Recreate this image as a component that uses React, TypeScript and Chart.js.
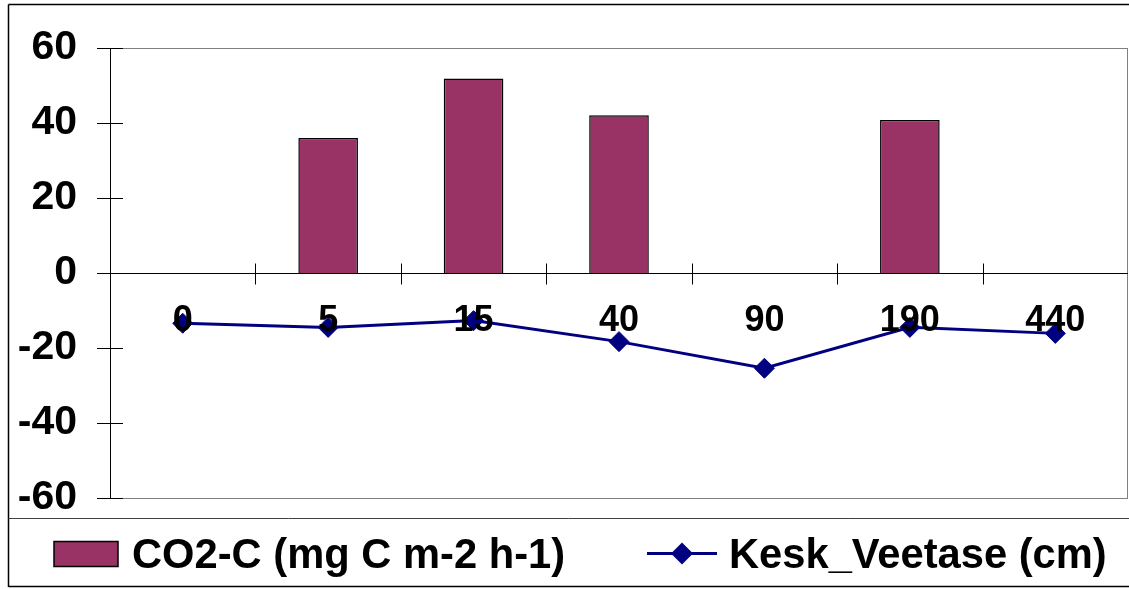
import React, { useEffect, useRef } from "react";
import { Chart, registerables } from "chart.js";

Chart.register(...registerables);

// ---- data ----
const categories = ["0", "5", "15", "40", "90", "190", "440"];
const co2Values: (number | null)[] = [null, 36.0, 51.9, 42.1, null, 40.8, null];
const waterLevel: number[] = [-13.4, -14.5, -12.7, -18.3, -25.4, -14.5, -16.1];
const yMin = -60;
const yMax = 60;
const yStep = 20;
const co2Label = "CO2-C (mg C m-2 h-1)";
const waterLabel = "Kesk_Veetase (cm)";

// ---- styles ----
const FONT = "'Liberation Sans', Arial, Helvetica, sans-serif";
const BAR_COLOR = "#993366";
const LINE_COLOR = "#000080";

function seg(ctx: CanvasRenderingContext2D, x1: number, y1: number, x2: number, y2: number) {
  ctx.beginPath();
  ctx.moveTo(x1, y1);
  ctx.lineTo(x2, y2);
  ctx.stroke();
}

const framePlugin = {
  id: "frame",
  beforeDatasetsDraw(chart: any) {
    const { ctx, chartArea: a, scales } = chart;
    const ys = scales.y;
    const xs = scales.x;
    ctx.save();
    ctx.lineWidth = 1;
    // gray plot border
    ctx.strokeStyle = "#808080";
    ctx.strokeRect(a.left + 0.5, Math.round(a.top) + 0.5, a.right - a.left - 1, Math.round(a.bottom - a.top));
    // y axis line
    ctx.strokeStyle = "#000";
    seg(ctx, a.left + 0.5, a.top, a.left + 0.5, a.bottom + 0.5);
    // zero line
    const z0 = Math.round(ys.getPixelForValue(0)) + 0.5;
    seg(ctx, a.left, z0, a.right, z0);
    // y ticks (crossing)
    for (const t of ys.ticks) {
      const py = Math.round(ys.getPixelForValue(t.value)) + 0.5;
      seg(ctx, a.left - 13, py, a.left + 13, py);
    }
    // x ticks at category boundaries (crossing the zero line)
    for (let i = 1; i < categories.length; i++) {
      const px = Math.round((xs.getPixelForValue(i - 1) + xs.getPixelForValue(i)) / 2) + 0.5;
      seg(ctx, px, z0 - 10, px, z0 + 11);
    }
    ctx.restore();
  },
  afterDraw(chart: any) {
    const { ctx } = chart;
    const W = chart.width;
    ctx.save();
    // outer border
    ctx.strokeStyle = "#000";
    ctx.lineWidth = 1.5;
    seg(ctx, 8.5, 4.5, W, 4.5);
    seg(ctx, 8.5, 4.5, 8.5, 587);
    seg(ctx, 8.5, 586.5, W, 586.5);
    // legend top divider
    ctx.strokeStyle = "#404040";
    ctx.lineWidth = 1;
    seg(ctx, 8.5, 518.5, W, 518.5);

    // legend items (taken from datasets)
    const ds0 = chart.data.datasets[0];
    const ds1 = chart.data.datasets[1];
    ctx.font = `bold 41.7px ${FONT}`;
    ctx.textBaseline = "alphabetic";
    ctx.textAlign = "left";
    // bar item
    ctx.fillStyle = ds0.backgroundColor;
    ctx.fillRect(54, 541.5, 64, 25);
    ctx.strokeStyle = "#000";
    ctx.lineWidth = 1.5;
    ctx.strokeRect(54, 541.5, 64, 25);
    ctx.fillStyle = "#000";
    ctx.fillText(ds0.label, 132, 568);
    // line item
    ctx.strokeStyle = ds1.borderColor;
    ctx.lineWidth = 3;
    seg(ctx, 647, 553.5, 717, 553.5);
    ctx.fillStyle = ds1.pointBackgroundColor;
    ctx.beginPath();
    ctx.moveTo(682, 542.5);
    ctx.lineTo(693, 553.5);
    ctx.lineTo(682, 564.5);
    ctx.lineTo(671, 553.5);
    ctx.closePath();
    ctx.fill();
    ctx.fillStyle = "#000";
    ctx.fillText(ds1.label, 729, 568);
    ctx.restore();
  },
};

export default function App() {
  const ref = useRef<HTMLCanvasElement | null>(null);

  useEffect(() => {
    if (!ref.current) return;
    const chart = new Chart(ref.current, {
      type: "bar",
      data: {
        labels: categories,
        datasets: [
          {
            type: "bar",
            label: co2Label,
            data: co2Values,
            backgroundColor: BAR_COLOR,
            borderColor: "#000",
            borderWidth: 1.5,
            barPercentage: 0.41,
            categoryPercentage: 1,
            order: 2,
          } as any,
          {
            type: "line",
            label: waterLabel,
            data: waterLevel,
            borderColor: LINE_COLOR,
            borderWidth: 3,
            pointStyle: "rectRot",
            pointRadius: 10,
            pointBackgroundColor: LINE_COLOR,
            pointBorderColor: LINE_COLOR,
            pointBorderWidth: 1,
            tension: 0,
            fill: false,
            order: 1,
          } as any,
        ],
      },
      options: {
        animation: false,
        responsive: false,
        devicePixelRatio: 1,
        layout: { autoPadding: false, padding: { top: 48, right: 1, bottom: 91, left: 0 } },
        plugins: {
          legend: { display: false },
          tooltip: { enabled: false },
        },
        scales: {
          x: {
            type: "category",
            position: { y: 0 } as any,
            offset: true,
            grid: { display: false, drawTicks: false, offset: true },
            border: { display: false },
            ticks: {
              font: { family: FONT, size: 36, weight: "bold" },
              color: "#000",
              padding: 26,
              maxRotation: 0,
              autoSkip: false,
              z: 1,
            },
            afterFit: (scale: any) => {
              scale.paddingLeft = 0;
              scale.paddingRight = 0;
              scale.paddingTop = 0;
              scale.paddingBottom = 0;
            },
          },
          y: {
            min: yMin,
            max: yMax,
            grid: { display: false, drawTicks: false },
            border: { display: false },
            ticks: {
              stepSize: yStep,
              font: { family: FONT, size: 41, weight: "bold" },
              color: "#000",
              padding: 33,
              autoSkip: false,
            },
            afterFit: (scale: any) => {
              scale.width = 110;
              scale.paddingTop = 0;
              scale.paddingBottom = 0;
            },
          },
        },
      },
      plugins: [framePlugin],
    });
    return () => chart.destroy();
  }, []);

  return (
    <div style={{ position: "absolute", left: 0, top: 0, width: 1129, height: 589, background: "#fff" }}>
      <canvas ref={ref} width={1129} height={589} style={{ display: "block" }} />
    </div>
  );
}
